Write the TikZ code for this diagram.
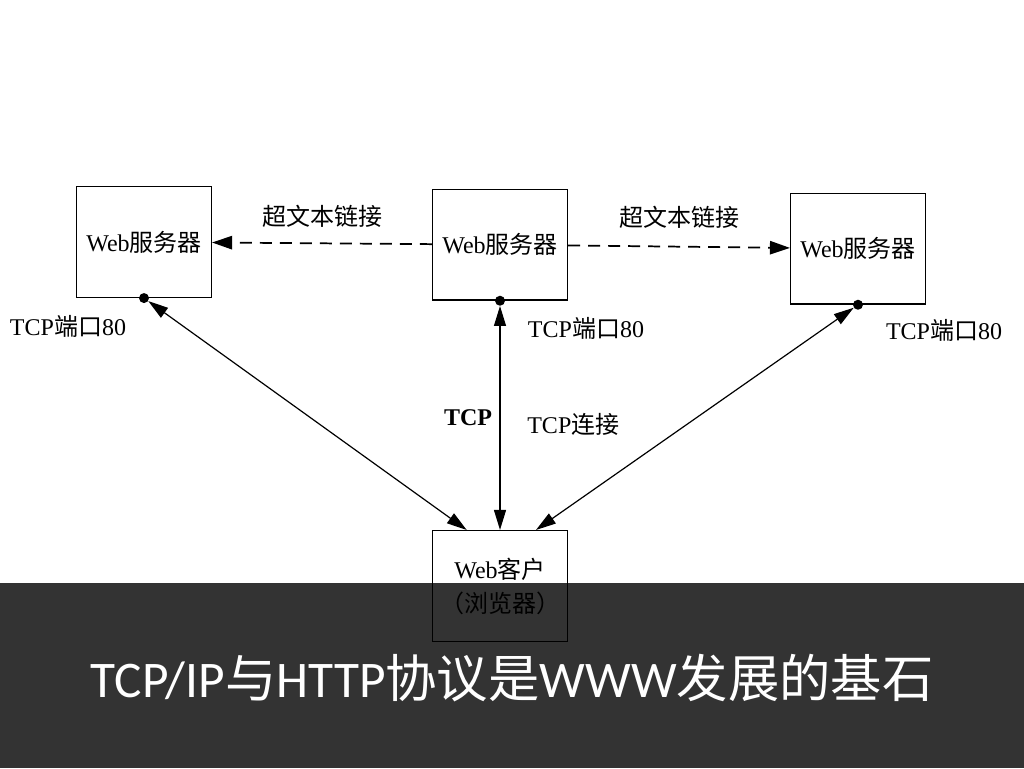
\documentclass[tikz,border=0pt]{standalone}
\usepackage{fontspec}
\setmainfont{Liberation Serif}
\newfontfamily\cjk{Noto Sans CJK SC}
\newfontfamily\slidefont{Carlito}
\usetikzlibrary{arrows.meta,positioning}
\newcommand{\zh}[1]{{\cjk #1}}

\begin{document}
\begin{tikzpicture}[x=1pt,y=1pt,on grid,
        server/.style={draw,line width=1.1pt,minimum width=101pt,minimum height=83pt,font=\fontsize{18}{22}\selectfont},
        port/.style={circle,fill,inner sep=0pt,minimum size=7.5pt},
        lbl/.style={inner sep=1pt,font=\fontsize{18}{22}\selectfont},
        hyper/.style={dash pattern=on 9pt off 6pt,line width=1.3pt,-{Triangle[length=15pt,width=10pt]}},
        every edge/.append style={{Triangle[length=15pt,width=9pt]}-{Triangle[length=15pt,width=9pt]},line width=0.9pt}]
        \useasboundingbox (0,0) rectangle (768,576);
        \node[server] (srv_m) at (375,392.5) {Web\zh{服务器}};
        \node[server] (srv_l) [left=267pt of srv_m,yshift=2pt] {Web\zh{服务器}};
        \node[server] (srv_r) [right=268.5pt of srv_m,yshift=-3pt] {Web\zh{服务器}};
        \node[server,align=center,font=\fontsize{18}{25.5}\selectfont] (client) [below=256pt of srv_m] {Web\zh{客户}\\\zh{（浏览器）}};
        % ports on the servers
        \node[port] (dot_l) at (srv_l.south) {};
        \node[port] (dot_m) at (srv_m.south) {};
        \node[port] (dot_r) at (srv_r.south) {};
        \node[lbl] (port_l) [below left=21pt and 57pt of dot_l] {TCP\zh{端口}80};
        \node[lbl] (port_m) [below right=21pt and 64.5pt of dot_m] {TCP\zh{端口}80};
        \node[lbl] (port_r) [below right=19pt and 64.5pt of dot_r] {TCP\zh{端口}80};
        \coordinate (in_l) at ([xshift=-25pt]client.north);
        \coordinate (in_m) at (dot_m |- client.north);
        \coordinate (in_r) at ([xshift=27pt]client.north);
        \draw[hyper] (srv_m) -- node[lbl,midway,yshift=20pt] (link_l) {\zh{超文本链接}} (srv_l);
        \draw[hyper] (srv_m) -- node[lbl,midway,yshift=22pt] (link_r) {\zh{超文本链接}} (srv_r);
        \path
        (dot_l) edge (in_l)
        (dot_m) edge node[lbl,pos=.5,xshift=-24pt,font=\bfseries\fontsize{18}{22}\selectfont] (tcp) {TCP}
                     node[lbl,pos=.53,xshift=55pt] (conn) {TCP\zh{连接}} (in_m)
        (dot_r) edge (in_r)
        ;
        % caption band
        \fill[black,fill opacity=.8] (0,0) rectangle (768,138.75);
        \node[text=white,font=\slidefont\fontsize{38.5}{44}\selectfont] (caption) at (384,67.5)
            {TCP/IP\zh{与}HTTP\zh{协议是}WWW\zh{发展的基石}};
\end{tikzpicture}
\end{document}
